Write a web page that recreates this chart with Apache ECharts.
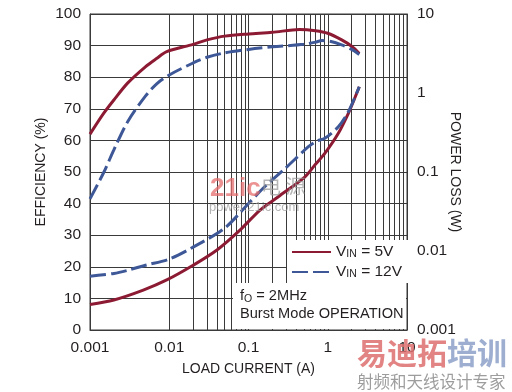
<!DOCTYPE html>
<html>
<head>
<meta charset="utf-8">
<script src="https://cdn.jsdelivr.net/npm/echarts@6/dist/echarts.min.js"></script>
<style>
html,body{margin:0;padding:0;background:#fff;}
#chart{width:512px;height:392px;}
</style>
</head>
<body>
<div id="chart"></div>
<script>
// ---- data ----
const xTickLabels = ['0.001', '0.01', '0.1', '1', '10'];
const plTickLabels = ['0.001', '0.01', '0.1', '1', '10'];
const minorMultipliers = [2, 3, 4, 5, 6, 7, 8, 9];
const minorDecades = [0.001, 0.01, 0.1, 1];

const eff5Current = [0.001, 0.0015, 0.002, 0.003, 0.005, 0.007, 0.0093, 0.02, 0.03, 0.05, 0.1, 0.2, 0.44, 0.7, 1, 1.5, 2, 2.5];
const eff5 = [62, 68.7, 72.8, 78.2, 83.3, 86, 88.1, 90.4, 91.8, 93, 93.7, 94.2, 95.1, 94.7, 93.9, 91.8, 89.8, 87.5];

const eff12Current = [0.001, 0.0015, 0.002, 0.003, 0.005, 0.007, 0.01, 0.02, 0.03, 0.05, 0.1, 0.2, 0.5, 0.7, 0.85, 1.1, 1.5, 2, 2.5];
const eff12 = [41.5, 50, 57, 66, 74, 78, 80.7, 84.5, 86.3, 87.7, 88.8, 89.6, 90.4, 91.1, 91.6, 91.3, 90.2, 88.8, 87.2];

const pl5Current = [0.001, 0.002, 0.0047, 0.0093, 0.02, 0.04, 0.078, 0.14, 0.238, 0.516, 0.7, 0.923, 1.36, 1.82, 2.2, 2.5];
const pl5 = [0.0021, 0.0024, 0.0032, 0.0043, 0.0066, 0.0103, 0.0184, 0.033, 0.0487, 0.087, 0.125, 0.173, 0.309, 0.553, 0.87, 1.2];

const pl12Current = [0.001, 0.002, 0.003, 0.005, 0.01, 0.02, 0.05, 0.1, 0.16, 0.29, 0.57, 0.73, 0.92, 1.36, 1.82, 2.5];
const pl12 = [0.0048, 0.0052, 0.0057, 0.0066, 0.0079, 0.0112, 0.0195, 0.04, 0.065, 0.111, 0.209, 0.247, 0.267, 0.374, 0.58, 1.2];

const seriesNames = ['VIN = 5V', 'VIN = 12V'];
const legendLabels = { 'VIN = 5V': '{a|V}{b|IN}{a| = 5V}', 'VIN = 12V': '{a|V}{b|IN}{a| = 12V}' };

// ---- styling ----
const FONT = "'Liberation Sans', Arial, sans-serif";
const RED = '#8c1a33';
const BLUE = '#3e5897';
const GRID = '#3a3a3a';
const TXT = '#231f20';

function zip(xs, ys) { return xs.map((x, i) => [x, ys[i]]); }

const minorLines = [];
minorDecades.forEach(d => minorMultipliers.forEach(m => minorLines.push({ xAxis: +(d * m).toPrecision(3) })));

const chart = echarts.init(document.getElementById('chart'), null, { renderer: 'canvas' });

chart.setOption({
  animation: false,
  backgroundColor: '#fff',
  textStyle: { fontFamily: FONT, color: TXT },
  grid: { left: 90, right: 105, top: 14, bottom: 62, show: true, borderColor: GRID, borderWidth: 1, backgroundColor: 'transparent' },
  xAxis: {
    type: 'log', logBase: 10, min: 0.001, max: 10,
    name: 'LOAD CURRENT (A)', nameLocation: 'middle', nameGap: 32, nameMoveOverlap: false,
    nameTextStyle: { fontFamily: FONT, fontSize: 14, color: TXT },
    axisLine: { show: true, lineStyle: { color: GRID, width: 1 } },
    axisTick: { show: false },
    axisLabel: {
      fontFamily: FONT, fontSize: 15.5, color: TXT, margin: 10,
      formatter: v => xTickLabels[Math.round(Math.log10(v)) + 3]
    },
    splitLine: { show: true, lineStyle: { color: GRID, width: 1 } },
    minorTick: { show: false }, minorSplitLine: { show: false }
  },
  yAxis: [{
    type: 'value', min: 0, max: 100, interval: 10,
    name: 'EFFICIENCY (%)', nameLocation: 'middle', nameGap: 42, nameRotate: 90, nameMoveOverlap: false,
    nameTextStyle: { fontFamily: FONT, fontSize: 14, color: TXT },
    axisLine: { show: true, lineStyle: { color: GRID } },
    axisTick: { show: false },
    axisLabel: { fontFamily: FONT, fontSize: 15.5, color: TXT, margin: 9 },
    splitLine: { show: true, lineStyle: { color: GRID, width: 1 } }
  }, {
    type: 'log', logBase: 10, min: 0.001, max: 10,
    name: 'POWER LOSS (W)', nameLocation: 'middle', nameGap: 41, nameRotate: -90, nameMoveOverlap: false,
    nameTextStyle: { fontFamily: FONT, fontSize: 14, color: TXT },
    axisLine: { show: true, lineStyle: { color: GRID } },
    axisTick: { show: false },
    axisLabel: {
      fontFamily: FONT, fontSize: 15.5, color: TXT, margin: 10,
      formatter: v => plTickLabels[Math.round(Math.log10(v)) + 3]
    },
    splitLine: { show: false }
  }],
  legend: {
    data: seriesNames,
    orient: 'vertical',
    left: 287, top: 240,
    itemWidth: 39, itemHeight: 14, itemGap: 3,
    padding: [3, 8, 3, 4],
    backgroundColor: '#fff',
    selectedMode: false,
    itemStyle: { opacity: 0 },
    formatter: name => legendLabels[name],
    textStyle: {
      fontFamily: FONT, color: TXT,
      rich: {
        a: { fontFamily: FONT, fontSize: 15.5, color: TXT, lineHeight: 16 },
        b: { fontFamily: FONT, fontSize: 10.5, color: TXT, lineHeight: 10, verticalAlign: 'bottom', padding: [6, 0, 0, 0] }
      }
    }
  },
  series: [
    {
      name: seriesNames[0], type: 'line', yAxisIndex: 0, data: zip(eff5Current, eff5),
      showSymbol: false, symbol: 'none', smooth: 0.3,
      lineStyle: { color: RED, width: 3 }, itemStyle: { color: RED }, z: 3,
      markLine: {
        silent: true, symbol: 'none', label: { show: false },
        lineStyle: { color: GRID, width: 1, type: 'solid' },
        data: minorLines, z: 1
      }
    },
    {
      name: seriesNames[1], type: 'line', yAxisIndex: 0, data: zip(eff12Current, eff12),
      showSymbol: false, symbol: 'none', smooth: 0.3,
      lineStyle: { color: BLUE, width: 3, type: [16, 5] }, itemStyle: { color: BLUE }, z: 3
    },
    {
      name: seriesNames[0], type: 'line', yAxisIndex: 1, data: zip(pl5Current, pl5),
      showSymbol: false, symbol: 'none', smooth: 0.3,
      lineStyle: { color: RED, width: 3 }, itemStyle: { color: RED }, z: 3
    },
    {
      name: seriesNames[1], type: 'line', yAxisIndex: 1, data: zip(pl12Current, pl12),
      showSymbol: false, symbol: 'none', smooth: 0.3,
      lineStyle: { color: BLUE, width: 3, type: [16, 5] }, itemStyle: { color: BLUE }, z: 3
    }
  ],
  graphic: [
    {
      type: 'rect', z: 100, silent: true,
      shape: { x: 233, y: 283, width: 173, height: 46 },
      style: { fill: '#fff' }
    },
    {
      type: 'text', z: 101, silent: true, left: 240, top: 288,
      style: {
        text: '{a|f}{b|O}{a| = 2MHz}\n{a|Burst Mode OPERATION}',
        fill: TXT,
        rich: {
          a: { fontFamily: FONT, fontSize: 14.6, fill: TXT, lineHeight: 18 },
          b: { fontFamily: FONT, fontSize: 10.5, fill: TXT, lineHeight: 10, verticalAlign: 'bottom', padding: [6, 0, 0, 0] }
        }
      }
    },
    // watermarks
    {
      type: 'text', z: 102, silent: true, left: 210, top: 176,
      style: { text: '21ic', fontFamily: 'Liberation Sans', fontWeight: 'bold', fontSize: 26, fill: 'rgba(230,110,110,0.75)' }
    },
    {
      type: 'text', z: 102, silent: true, left: 261, top: 176,
      style: { text: '电 源', fontFamily: 'Noto Sans CJK SC', fontSize: 20, fill: 'rgba(150,150,150,0.7)' }
    },
    {
      type: 'text', z: 102, silent: true, left: 209, top: 201,
      style: { text: 'power.21ic.com', fontFamily: 'Liberation Sans', fontSize: 13, fill: 'rgba(150,150,150,0.7)' }
    },
    {
      type: 'text', z: 102, silent: true, left: 357, top: 338,
      style: {
        text: '{r|易迪拓}{g|培训}',
        rich: {
          r: { fontFamily: 'Noto Sans CJK SC', fontWeight: 'bold', fontSize: 30, fill: 'rgba(222,110,110,0.85)' },
          g: { fontFamily: 'Noto Sans CJK SC', fontWeight: 'bold', fontSize: 30, fill: 'rgba(140,160,200,0.85)' }
        }
      }
    },
    {
      type: 'text', z: 102, silent: true, left: 357, top: 373,
      style: { text: '射频和天线设计专家', fontFamily: 'Noto Sans CJK SC', fontSize: 16.5, fill: 'rgba(140,140,140,0.85)' }
    }
  ]
});
</script>
</body>
</html>
